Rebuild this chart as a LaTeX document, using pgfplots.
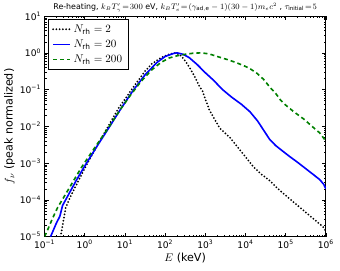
\documentclass[border=0pt]{standalone}
\usepackage{fontspec}
\setmainfont{DejaVu Sans}
\usepackage{pgfplots}
\pgfplotsset{compat=1.18}
\begin{document}
\begin{tikzpicture}
\begin{loglogaxis}[
  scale only axis,
  width=278pt, height=218pt,
  xmin=0.1, xmax=1e6, ymin=1e-5, ymax=10,
  xtick={0.1,1,10,100,1000,1e4,1e5,1e6},
  xticklabels={10\textsuperscript{−1},10\textsuperscript{0},10\textsuperscript{1},10\textsuperscript{2},10\textsuperscript{3},10\textsuperscript{4},10\textsuperscript{5},10\textsuperscript{6}},
  ytick={1e-5,1e-4,1e-3,1e-2,1e-1,1,10},
  yticklabels={10\textsuperscript{−5},10\textsuperscript{−4},10\textsuperscript{−3},10\textsuperscript{−2},10\textsuperscript{−1},10\textsuperscript{0},10\textsuperscript{1}},
  tick label style={font=\fontsize{9}{10}\selectfont},
  tick align=inside,
  major tick length=4pt, minor tick length=2pt,
  every tick/.style={black, line width=0.5pt},
  axis line style={line width=0.8pt},
  xlabel={$E$ (keV)},
  ylabel={$f_\nu$ (peak normalized)},
  label style={font=\fontsize{11}{12}\selectfont},
  xlabel style={yshift=3pt},
  ylabel style={yshift=-2pt},
  title={Re-heating, $k_B T_\gamma'\!=\!300$ eV, $k_B T_e'\!=\!(\gamma_{\rm ad,e}-1)(30-1)m_e c^2$ , $\tau_{\rm initial}\!=\!5$},
  title style={font=\fontsize{7.8}{8}\selectfont, yshift=-6pt},
  legend style={font=\fontsize{10.5}{12}\selectfont, draw=black, line width=0.5pt, at={(0.012,0.985)}, anchor=north west, row sep=2pt, inner xsep=4pt, inner ysep=3pt},
  legend cell align=left,
]
\addplot[black, line width=2pt, line cap=round, dash pattern=on 0pt off 3.2pt] coordinates {
(0.2512,1e-5) (0.2818,1.995e-5) (0.3388,6.310e-5) (0.4467,1.259e-4) (0.5754,2.188e-4)
(1.072,8.318e-4) (2.570,4.677e-3) (6.918,3.090e-2) (15.85,0.1122) (31.62,0.3162)
(46.77,0.5012) (79.43,0.7413) (125.9,0.912) (186.2,1) (251.2,0.8318) (316.2,0.6026)
(398.1,0.4169) (537.0,0.2344) (707.9,0.1259) (851.1,0.0912) (1259,0.02818)
(2291,8.913e-3) (4074,5.012e-3) (8710,1.778e-3) (15849,7.943e-4) (23442,5.248e-4)
(41687,3.236e-4) (61660,2.089e-4) (131826,1.023e-4) (223872,6.310e-5) (416869,3.548e-5)
(851138,1.862e-5) (1e6,1.413e-5)
};
\addlegendentry{$N_{\rm rh}=2$}
\addplot[blue, line width=1.6pt] coordinates {
(0.1413,1e-5) (0.1995,2.399e-5) (0.2399,3.548e-5) (0.2818,7.079e-5) (0.3981,1.413e-4)
(0.6310,3.548e-4) (1,8.318e-4) (1.995,2.818e-3) (3.981,9.120e-3) (7.943,3.020e-2)
(15.85,9.333e-2) (31.62,0.2512) (63.10,0.5495) (100,0.7943) (158.5,0.955) (199.5,1)
(281.8,0.912) (398.1,0.7413) (631.0,0.4786) (1000,0.2884) (1585,0.1820) (2692,0.1)
(4467,0.0631) (7943,0.0398) (12882,0.0251) (19953,0.01413) (28184,7.943e-3)
(39811,4.467e-3) (56234,3.020e-3) (79433,2.239e-3) (125893,1.514e-3) (199526,1.047e-3)
(316228,7.079e-4) (501187,4.786e-4) (707946,3.548e-4) (891251,2.630e-4) (1e6,1.995e-4)
};
\addlegendentry{$N_{\rm rh}=20$}
\addplot[green!50!black, line width=1.6pt, dash pattern=on 4pt off 3pt] coordinates {
(0.1,1e-5) (0.1202,1.549e-5) (0.1585,3.162e-5) (0.2138,6.310e-5) (0.2818,1.047e-4)
(0.4266,2.239e-4) (0.7943,7.079e-4) (1.259,1.514e-3) (1.995,3.162e-3) (3.981,9.550e-3)
(7.943,3.020e-2) (13.80,7.079e-2) (25.12,0.1660) (46.77,0.3467) (79.43,0.5495)
(125.9,0.7244) (199.5,0.8318) (316.2,0.912) (501.2,0.977) (794.3,1) (1259,0.933)
(2291,0.7586) (3981,0.631) (6310,0.5248) (8710,0.4571) (12589,0.3802) (19498,0.2754)
(28184,0.1905) (41687,0.1122) (56234,0.0794) (74131,0.0525) (1e5,0.0380)
(158489,0.0251) (281838,0.01585) (501187,9.12e-3) (707946,6.607e-3) (1e6,3.981e-3)
};
\addlegendentry{$N_{\rm rh}=200$}
\end{loglogaxis}
\path (current axis.south west) ++(-44pt,-33pt) coordinate (bl);
\path (current axis.north east) ++(14pt,14pt) coordinate (tr);
\path[use as bounding box] (bl) rectangle (tr);
\end{tikzpicture}
\end{document}
